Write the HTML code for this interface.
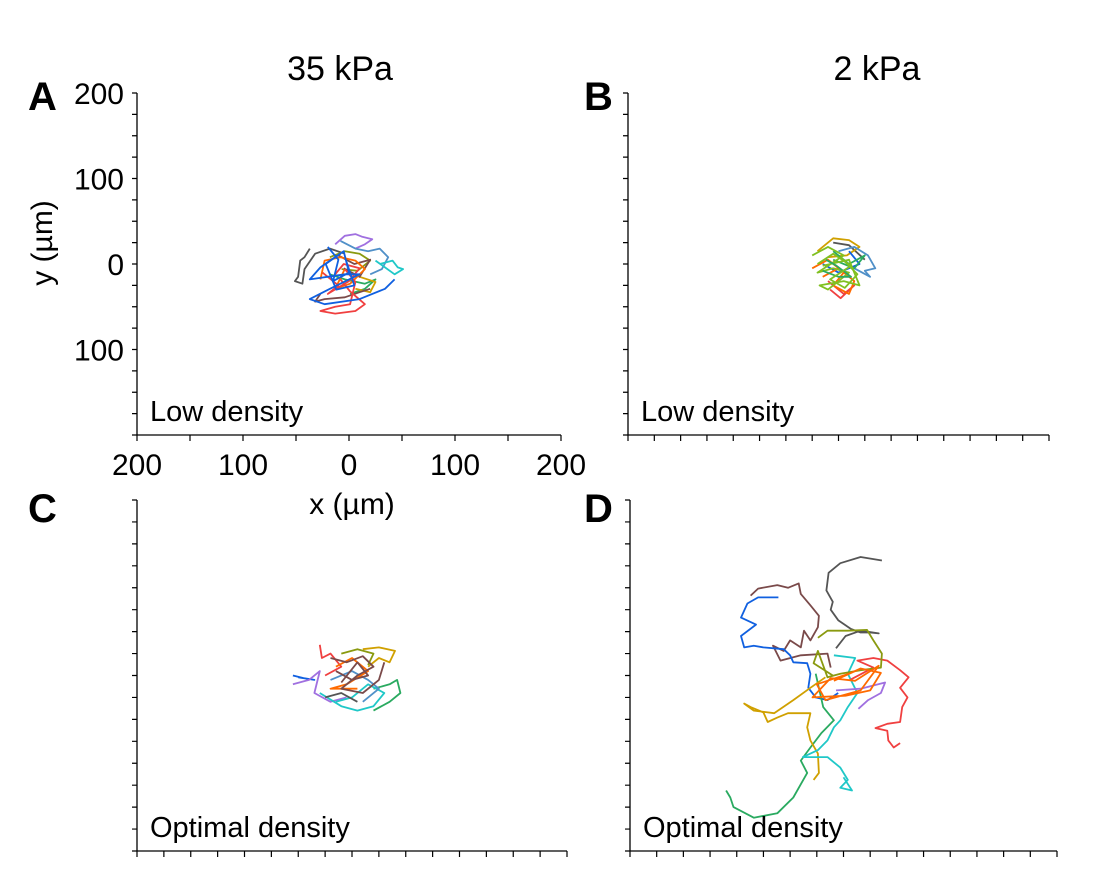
<!DOCTYPE html>
<html><head><meta charset="utf-8"><style>
body{margin:0;background:#fff}
svg text{font-family:"Liberation Sans",Arial,sans-serif;fill:#000}
</style></head><body>
<svg id="chart" width="1104" height="882" viewBox="0 0 1104 882" xmlns="http://www.w3.org/2000/svg">
<text x="340" y="80" font-size="34" text-anchor="middle">35 kPa</text>
<text x="877" y="80" font-size="34" text-anchor="middle">2 kPa</text>
<text x="28" y="110" font-size="40" font-weight="bold">A</text>
<text x="584" y="110" font-size="40" font-weight="bold">B</text>
<text x="28" y="522" font-size="40" font-weight="bold">C</text>
<text x="584" y="522" font-size="40" font-weight="bold">D</text>
<text transform="translate(52,243) rotate(-90)" font-size="30" text-anchor="middle">y (µm)</text>
<text x="352" y="514" font-size="30" text-anchor="middle">x (µm)</text>
<g id="panels"></g>
</svg>
<script>
const C1 = ['#555555','#a070e0','#5090c8','#20c8c8','#1060e0','#f04040','#7a4a4a','#ff6a00','#8a9a10','#d0a000','#2aaa60','#80c020'];
// Panel A tracks (µm)
const aGray=[-37,18,-42,8,-46,4,-48,-15,-51,-20,-44,-23,-42,-6,-32,12,-18,18,-4,12];
const aPurple=[-13,23,-4,33,6,35,12,32,22,29,15,23,6,18];
const aSteel=[-8,27,6,18,18,15,29,18,37,8,31,-6,20,-12];
const aCyan=[29,0,41,4,46,-4,51,-6,43,-12,34,-4,25,4];
const aBlue=[-8,12,-18,4,-27,-4,-37,-18,-4,-12,10,-12,-18,-29,-37,-41,-23,-47,10,-41,34,-29,43,-18];
const aBlue2=[-20,20,-10,5,-15,-20,0,-10,-5,15,-22,0,-12,-30,5,-25,-3,5];
const aRed=[-4,-6,6,-21,1,-47,-13,-50,-27,-55,-13,-58,6,-55,15,-47,1,-32,-8,-18];
const aRed2=[-25,-10,-10,-25,-20,-35,0,-20,10,-5,-5,0,-15,-15];
const aBrown=[-27,-35,-32,-44,-23,-41,-4,-39,10,-33,20,-29];
const aBrown2=[-10,10,5,0,20,5,10,-15,-5,-5];
const aOrange=[-27,-18,-23,4,-8,8,6,4,15,-6,1,-23,-13,-29,-4,-6];
const aOlive=[-18,8,-4,15,10,12,20,4,8,-8,-7,-6];
const aGreen=[-18,-12,-4,-18,15,-23,25,-18,15,-29,1,-35];
const aGold=[6,-29,20,-33,25,-21,10,-15];
// Panel B tracks
const bGold=[-20,15,-5,30,10,28,20,20,8,10,-10,8];
const bSteel=[0,15,15,20,28,10,35,-5,25,-8,30,-15,15,-5];
const bOrange=[-25,-5,-10,5,5,-10,-5,-25,10,-35,15,-20,0,-5,-15,-15];
const bLime=[-25,10,-10,20,5,10,-20,-10,-5,-5,10,-10,-10,-30,-18,-25,5,-20,20,-25,10,5,-15,-2];
const bLime2=[-20,0,-5,12,12,-2,-8,-18,6,-28,18,-12,2,8];
const bRed=[-10,-20,5,-35,15,-25,2,-40,-8,-30];
const bGreen=[-5,5,15,-5,25,10,10,0,-5,15];
const bGreen2=[-15,-8,0,-15,12,-15,-2,-2,-12,5];
const bBlue=[-15,0,0,-10,20,0,10,15];
const bGray=[-5,25,10,22,25,5];
// Panel C tracks
const cRed=[-30,35,-28,20,-20,25,-10,10,-25,0];
const cGold=[10,30,25,32,40,28,35,15,25,20,15,10];
const cBlue=[-55,0,-45,-3,-35,-5,-50,-2];
const cPurple=[-55,-10,-40,-5,-30,5,-35,-20,-20,-30,-5,-25];
const cBrown=[-20,20,-5,15,10,22,20,10,5,0,-10,-15,10,-20,25,-5,30,15];
const cBrown2=[-15,5,0,-5,15,0,5,15,-10,-8];
const cCyan=[-30,-20,-10,-35,5,-40,20,-35,30,-20,15,-10,0,-25,-15,-30];
const cGreen=[20,-15,35,-10,42,-5,45,-20,35,-30,20,-40];
const cSteel=[-20,-5,0,5,15,-5,25,-15,10,-30];
const cOrange=[-15,10,0,20,15,5,-5,-10,-20,-15,5,-15];
const cOlive=[-10,25,5,30,20,25,15,12];
const cGray=[-25,-25,-10,-20,5,-30];
// Panel D tracks
const dGray=[36,131,16,135,-3,128,-14,117,-16,97,-10,84,-12,75,-5,63,7,53,16,49,25,49,33,48,16,51,2,45,-7,31];
const dBrown=[-87,91,-80,99,-62,103,-52,100,-42,105,-40,93,-31,80,-23,68,-24,55,-31,40,-37,51,-40,32,-50,40,-56,28,-66,34,-59,17,-40,23,-15,25,-12,9];
const dBlue=[-61,89,-80,89,-90,82,-96,66,-82,58,-96,45,-93,32,-84,34,-75,32,-56,30,-50,23,-47,15,-34,14,-31,2,-33,-14,-26,-25,-15,-28,-5,-20];
const dOlive=[-24,43,-15,51,4,51,22,52,28,40,36,25,35,9,16,6,-3,2,-15,-2,-24,28,-28,14,-10,0];
const dCyan=[-9,23,11,20,4,2,13,-20,4,-36,-3,-51,-9,-59,-15,-74,-24,-85,-38,-93,-15,-93,-3,-105,4,-119,-3,-128,8,-131,0,-116];
const dGreen=[-26,2,-19,-36,-9,-51,-21,-66,-31,-82,-40,-97,-34,-111,-47,-139,-62,-157,-84,-162,-103,-150,-106,-139,-110,-131];
const dGold=[-28,-119,-23,-111,-24,-89,-31,-74,-34,-59,-31,-43,-52,-43,-62,-48,-71,-53,-75,-42,-87,-36,-93,-32,-84,-40,-65,-43,-47,-28,-31,-14,-17,-2];
const dRed=[6,-5,28,9,13,17,28,20,41,17,53,6,61,-2,53,-14,60,-25,55,-36,53,-53,41,-55,30,-60,41,-63,42,-74,47,-82,53,-77];
const dOrange=[-9,-6,16,8,35,3,25,-17,2,-23,-29,-25,-12,-3,11,-6,33,11,16,-17,-17,-28,-25,-10,5,2];
const dPurple=[-7,-17,16,-15,39,-8,35,-20,23,-28,14,-38];

const panels=[
 {name:'a',x0:137,x1:561,y0:93,y1:435,xt:50,labels:true,note:'Low density',tracks:[[aGray,0],[aPurple,1],[aSteel,2],[aCyan,3],[aGreen,10],[aOlive,8],[aGold,9],[aBrown,6],[aBrown2,6],[aOrange,7],[aRed,5],[aRed2,5],[aBlue,4],[aBlue2,4]]},
 {name:'b',x0:628,x1:1049,y0:93,y1:435,xt:25,labels:false,note:'Low density',tracks:[[bGray,0],[bGold,9],[bSteel,2],[bBlue,4],[bRed,5],[bOrange,7],[bGreen,10],[bLime,11],[bGreen2,10],[bLime2,11]]},
 {name:'c',x0:137,x1:567,y0:500,y1:851,xt:25,labels:false,note:'Optimal density',tracks:[[cRed,5],[cGold,9],[cBlue,4],[cPurple,1],[cGreen,10],[cCyan,3],[cSteel,2],[cOrange,7],[cOlive,8],[cGray,0],[cBrown,6],[cBrown2,6]]},
 {name:'d',x0:630,x1:1057,y0:500,y1:851,xt:25,labels:false,note:'Optimal density',tracks:[[dGray,0],[dBrown,6],[dBlue,4],[dGreen,10],[dGold,9],[dCyan,3],[dPurple,1],[dRed,5],[dOlive,8],[dOrange,7]]}
];
const NS='http://www.w3.org/2000/svg';
const root=document.getElementById('panels');
function mk(t,a){const e=document.createElementNS(NS,t);for(const k in a)e.setAttribute(k,a[k]);return e;}
panels.forEach(p=>{
 const g=mk('g',{});
 
 
 root.appendChild(g);
 const sx=v=>p.x0+(v+200)/400*(p.x1-p.x0);
 const sy=v=>p.y0+(200-v)/400*(p.y1-p.y0);
 p.tracks.forEach((t,i)=>{
  const d=t[0];let s='';
  for(let k=0;k<d.length;k+=2)s+=(k?'L':'M')+sx(d[k]).toFixed(1)+','+sy(d[k+1]).toFixed(1);
  const path=mk('path',{d:s,fill:'none',stroke:C1[t[1]],'stroke-width':1.8,'stroke-linejoin':'round'});
  
  
  g.appendChild(path);
 });
 const ax=mk('path',{d:`M${p.x0},${p.y0}V${p.y1}H${p.x1}`,fill:'none',stroke:'#000','stroke-width':1.3});
 
 
 g.appendChild(ax);
 let tk='';
 for(let v=-200;v<=200;v+=25)tk+=`M${p.x0-5},${sy(v)}H${p.x0}`;
 for(let v=-200;v<=200;v+=p.xt)tk+=`M${sx(v)},${p.y1}V${p.y1+6}`;
 const ticks=mk('path',{d:tk,stroke:'#000','stroke-width':1.2});
 
 
 g.appendChild(ticks);
 if(p.labels){
  [200,100,0,-100].forEach(v=>{
   const t=mk('text',{x:p.x0-13,y:sy(v)+11,'font-size':30,'text-anchor':'end'});
   t.textContent=Math.abs(v);
   
   
   g.appendChild(t);
  });
  [-200,-100,0,100,200].forEach(v=>{
   const t=mk('text',{x:sx(v),y:p.y1+40,'font-size':30,'text-anchor':'middle'});
   t.textContent=Math.abs(v);
   
   
   g.appendChild(t);
  });
 }
 const n=mk('text',{x:p.x0+13,y:p.y1-14,'font-size':29});
 n.textContent=p.note;
 
 
 g.appendChild(n);
});
</script>
</body></html>
